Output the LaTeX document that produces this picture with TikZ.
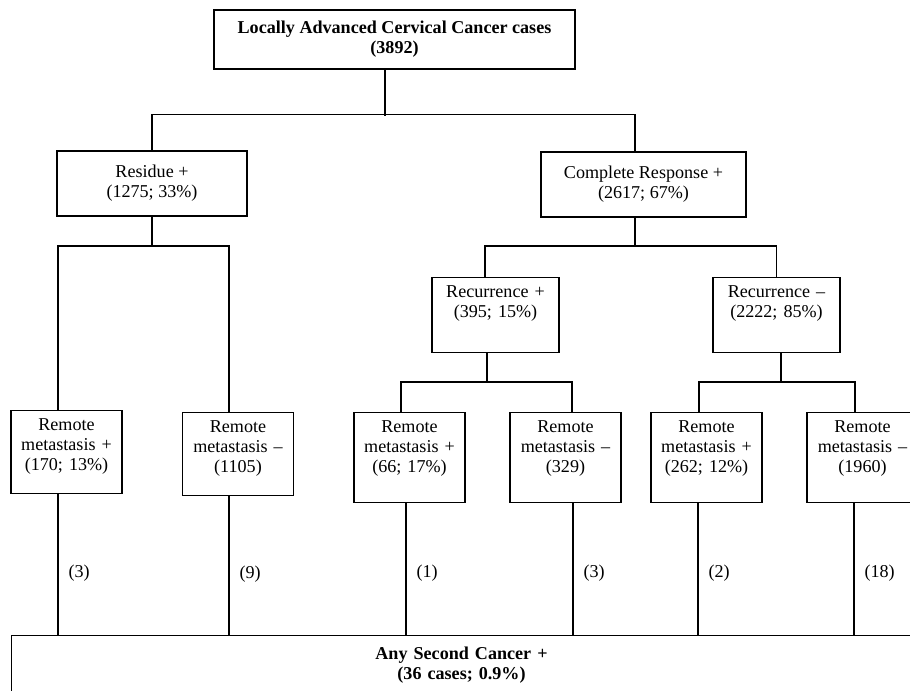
\documentclass[tikz,border=0pt]{standalone}
\usepackage{fontspec}
\setmainfont{Liberation Serif}
\def\boxfont{\fontsize{10.3}{11.4}\selectfont}
\tikzset{box/.style={draw, line width=0.6pt, align=center, inner sep=0.05cm, font=\boxfont}}
\tikzset{topbox/.style={box, anchor=north, text height=0.3cm, inner ysep=0.1cm}}
\tikzset{remote/.style={topbox, text width=2.12cm}}
\tikzset{cnt/.style={anchor=west, inner sep=0.2cm, font=\boxfont}}
\tikzset{link/.style={line width=0.6pt}}

\begin{document}
\begin{tikzpicture}
\useasboundingbox (0,0) rectangle (18.2,13.82);
\clip (0,0) rectangle (18.2,13.82);
\node (top) [box, minimum width=7.22cm, minimum height=1.18cm, font=\boxfont\bfseries] at (7.89,13.03) {Locally Advanced Cervical Cancer cases\\(3892)};
\node (res) [box, minimum width=3.8cm, minimum height=1.3cm] at (3.04,10.15) {Residue +\\(1275; 33\%)};
\node (cr) [box, minimum width=4.1cm, minimum height=1.3cm] at (12.87,10.13) {Complete Response +\\(2617; 67\%)};
\node (recp) [topbox, text width=2.44cm, text depth=1.0cm] at (9.91,8.28) {Recurrence +\\(395; 15\%)};
\node (recm) [topbox, text width=2.44cm, text depth=1.0cm] at (15.53,8.28) {Recurrence --\\(2222; 85\%)};
\node (r1) [remote, text depth=1.16cm] at (1.33,5.62) {Remote\\metastasis +\\(170; 13\%)};
\node (r2) [remote, text depth=1.16cm] at (4.76,5.58) {Remote\\metastasis --\\(1105)};
\node (r3) [remote, text depth=1.3cm] at (8.19,5.58) {Remote\\metastasis +\\(66; 17\%)};
\node (r4) [remote, text depth=1.3cm] at (11.31,5.58) {Remote\\metastasis --\\(329)};
\node (r5) [remote, text depth=1.3cm] at (14.13,5.58) {Remote\\metastasis +\\(262; 12\%)};
\node (r6) [remote, text depth=1.3cm] at (17.25,5.58) {Remote\\metastasis --\\(1960)};
\node (second) [box, anchor=north west, text width=17.9cm, text height=0.38cm, text depth=1.2cm, inner ysep=0.1cm, font=\boxfont\bfseries] at (0.22,1.12) {Any Second Cancer +\\(36 cases; 0.9\%)};
% tree (stems sit a little left of the box middles)
\draw[link] ([xshift=-0.19cm]top.south) -- ++(0,-0.92);
\draw[link] (res.north) -- ++(0,0.72) -| ([xshift=-0.17cm]cr.north);
\draw[link] (res.south) -- ++(0,-0.6);
\draw[link] ([xshift=-0.17cm]r1.north) -- ++(0,3.28) -| ([xshift=-0.18cm]r2.north);
\draw[link] ([xshift=-0.17cm]cr.south) -- ++(0,-0.58);
\draw[link] ([xshift=-0.21cm]recp.north) -- ++(0,0.62) -| (recm.north);
\draw[link] ([xshift=-0.17cm]recp.south) -- ++(0,-0.6);
\draw[link] ([xshift=-0.17cm]r3.north) -- ++(0,0.6) -| ([xshift=0.13cm]r4.north);
\draw[link] ([xshift=0.09cm]recm.south) -- ++(0,-0.6);
\draw[link] ([xshift=-0.15cm]r5.north) -- ++(0,0.6) -| ([xshift=-0.15cm]r6.north);
% second cancer counts
\draw[link] ([xshift=-0.17cm]r1.south) -- ++(0,-2.84) node[cnt, pos=0.56] (n1) {(3)};
\draw[link] ([xshift=-0.18cm]r2.south) -- ++(0,-2.8) node[cnt, pos=0.56] (n2) {(9)};
\draw[link] ([xshift=-0.07cm]r3.south) -- ++(0,-2.66) node[cnt, pos=0.53] (n3) {(1)};
\draw[link] ([xshift=0.15cm]r4.south) -- ++(0,-2.66) node[cnt, pos=0.53] (n4) {(3)};
\draw[link] ([xshift=-0.17cm]r5.south) -- ++(0,-2.66) node[cnt, pos=0.53] (n5) {(2)};
\draw[link] ([xshift=-0.17cm]r6.south) -- ++(0,-2.66) node[cnt, pos=0.53] (n6) {(18)};
\end{tikzpicture}
\end{document}
